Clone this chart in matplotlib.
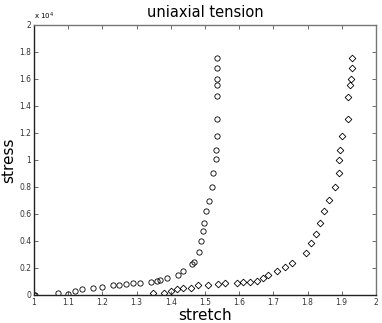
import matplotlib
matplotlib.use('Agg')
import matplotlib.pyplot as plt
from matplotlib.ticker import FuncFormatter

# curva 1 (circulos)
stretch_a = [1.0, 1.002, 1.071, 1.10, 1.12, 1.139, 1.172, 1.20, 1.23, 1.25, 1.27, 1.29,
             1.31, 1.341, 1.36, 1.37, 1.39, 1.42, 1.437, 1.461, 1.469, 1.482, 1.488,
             1.495, 1.498, 1.503, 1.511, 1.521, 1.525, 1.531, 1.531, 1.536, 1.536,
             1.536, 1.536, 1.536, 1.536, 1.536]
stress_a = [0, 0, 130, 100, 300, 420, 500, 550, 720, 770, 810, 890,
            890, 990, 1040, 1090, 1280, 1480, 1800, 2300, 2470, 3200, 4000,
            4700, 5300, 6240, 6980, 8020, 9010, 10050, 10740, 11800, 13000,
            14740, 15580, 16000, 16840, 17530]

# curva 2 (losangos)
stretch_b = [1.349, 1.38, 1.40, 1.417, 1.437, 1.459, 1.48, 1.51, 1.539, 1.558, 1.593,
             1.612, 1.632, 1.651, 1.670, 1.685, 1.711, 1.734, 1.755, 1.797, 1.81,
             1.825, 1.836, 1.849, 1.862, 1.88, 1.892, 1.892, 1.895, 1.901, 1.917,
             1.919, 1.924, 1.927, 1.931, 1.931]
stress_b = [130, 130, 300, 420, 500, 540, 740, 740, 810, 870, 890,
            940, 990, 1060, 1240, 1480, 1800, 2100, 2390, 3090, 3830,
            4500, 5360, 6200, 7000, 8000, 9000, 10000, 10740, 11800, 13000,
            14690, 15560, 16000, 16840, 17530]

x_ticks = [1, 1.1, 1.2, 1.3, 1.4, 1.5, 1.6, 1.7, 1.8, 1.9, 2]
y_ticks = [0, 2000, 4000, 6000, 8000, 10000, 12000, 14000, 16000, 18000, 20000]

fig = plt.figure(figsize=(3.82, 3.23), dpi=100)
ax = fig.add_axes([0.089, 0.087, 0.895, 0.836])

ax.plot(stretch_a, stress_a, 'o', mfc='none', mec='black', ms=3.8, mew=0.6)
ax.plot(stretch_b, stress_b, 'D', mfc='none', mec='black', ms=3.4, mew=0.6)

ax.set_xlim(1, 2)
ax.set_ylim(0, 20000)
ax.set_xticks(x_ticks)
ax.set_yticks(y_ticks)
ax.xaxis.set_major_formatter(FuncFormatter(lambda v, p: f"{v:g}"))
ax.yaxis.set_major_formatter(FuncFormatter(lambda v, p: f"{v/1e4:g}"))
ax.tick_params(direction='in', length=3, width=0.6, labelsize=5.5, pad=2,
               top=True, right=True, colors='#555555', labelcolor='#333333')
for s in ['left', 'bottom']:
    ax.spines[s].set_color('#222222')
    ax.spines[s].set_linewidth(1.0)
for s in ['top', 'right']:
    ax.spines[s].set_color('#777777')
    ax.spines[s].set_linewidth(1.0)

ax.text(0.0, 1.01, r'x 10$^4$', transform=ax.transAxes, fontsize=5, ha='left', va='bottom')
ax.set_title('uniaxial tension', fontsize=10.5, pad=6)
ax.set_xlabel('stretch', fontsize=11, labelpad=1)
ax.set_ylabel('stress', fontsize=11, labelpad=2)

plt.savefig('out.png', dpi=100)
